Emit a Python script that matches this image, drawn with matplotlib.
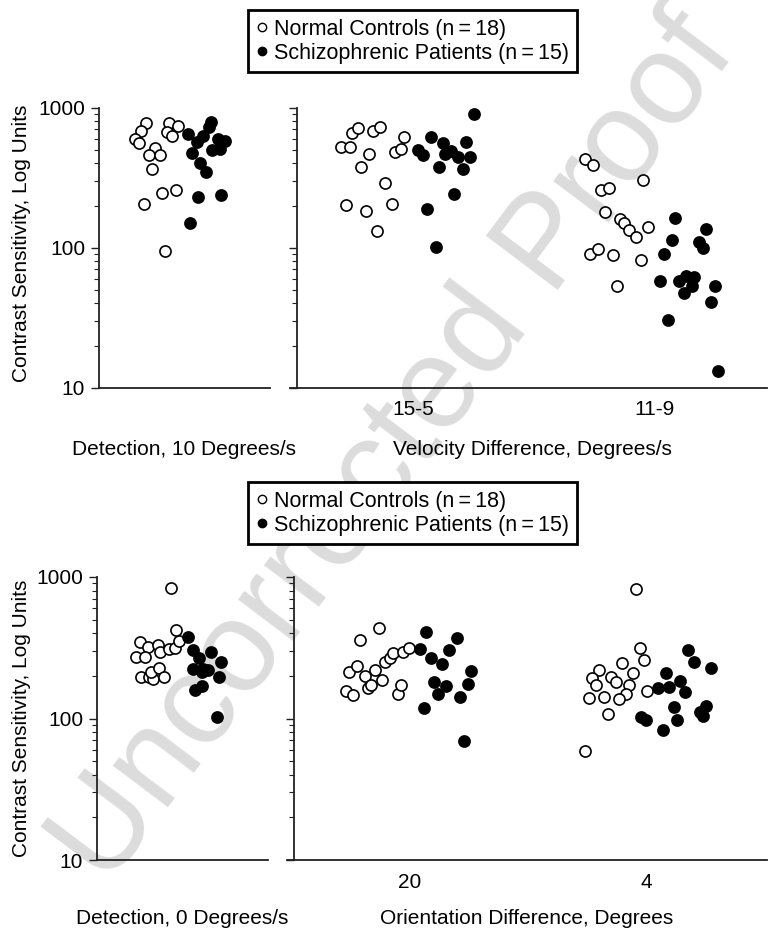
import matplotlib
matplotlib.use("Agg")
import matplotlib.pyplot as plt
from matplotlib.lines import Line2D
from matplotlib.ticker import NullFormatter

plt.rcParams['font.family'] = ['Liberation Sans', 'DejaVu Sans']
plt.rcParams['font.size'] = 15

# ---- data (contrast sensitivity, x = jittered position inside the panel) ----
# Detection, 10 deg/s
det10_ctrl_x = [46.7, 42, 36, 40, 56.3, 49.7, 61.3, 52.7, 70, 79, 67.7, 73.3, 63.3, 76.7, 44.7, 66]
det10_ctrl_y = [781, 681, 594, 556, 512, 459, 459, 363, 781, 739, 666, 628, 246, 258, 206, 94]
det10_pat_x = [88.7, 97.7, 104.3, 110, 112.3, 93.3, 113.3, 119.3, 125.7, 121, 101, 107.3, 99, 122, 91.3]
det10_pat_y = [645, 568, 631, 731, 786, 472, 499, 594, 578, 509, 400, 345, 229, 239, 150]

# Velocity difference
vel_labels = ['15-5', '11-9']
vel_ticks = [116, 358]
vel_ctrl_x = [44, 53, 55, 60.7, 75.7, 83.3, 72.3, 64.3, 87.7, 98, 103.7, 107, 48.7, 69, 95.3, 80,
              288.3, 296.3, 304, 312.3, 346, 308, 323, 327.3, 332, 339.3, 351.3, 293, 301.3, 315.7, 343.7, 320.3]
vel_ctrl_y = [524, 524, 656, 720, 681, 732, 464, 377, 291, 482, 509, 617, 201, 182, 206, 131,
              432, 392, 258, 268, 303, 180, 161, 151, 134.5, 120, 140.5, 90.6, 98.4, 89.1, 81.6, 52.9]
vel_pat_x = [176.7, 133.7, 145.7, 169, 121, 126, 147.7, 154, 161.3, 173, 142, 166, 157, 130.3, 138.7,
             378, 409.3, 374.7, 402.3, 406, 367, 363, 382.3, 389.3, 397, 395, 386.7, 417.7, 414, 371, 420.7]
vel_pat_y = [901, 621, 556, 568, 496, 459, 464, 493, 442, 447, 375, 367, 240, 188, 100.5,
             164, 136.7, 113.4, 110.4, 98.9, 90.1, 57.5, 57.5, 62.8, 62.1, 53.5, 47.2, 52.9, 40.9, 30.6, 13.1]

# Detection, 0 deg/s
det0_ctrl_x = [42.6, 50.6, 61.3, 62.6, 71.6, 77.6, 81.6, 79, 74, 39.3, 48.3, 43.6, 51.6, 55.6, 54, 61.6, 66.6]
det0_ctrl_y = [345, 320, 330, 293, 309, 314, 354, 419, 836, 272, 270, 198, 198, 190, 214, 227, 198]
det0_pat_x = [90.6, 95.6, 102.3, 114, 96, 106.3, 111.3, 105.3, 123.6, 121.6, 98, 105, 119.6]
det0_pat_y = [378, 306, 267, 293, 225, 223, 221, 212, 249, 196, 160, 170, 103]

# Orientation difference
ori_labels = ['20', '4']
ori_ticks = [116, 352]
ori_ctrl_x = [84.7, 66.3, 52, 59.3, 55.3, 62.7, 70.7, 74, 77.3, 81, 87.7, 91.3, 96, 99.3, 109.3, 114.7, 103.7, 107,
              342, 345.7, 350.3, 328, 305.3, 338.7, 298, 317, 321.7, 302, 334.7, 332, 353.3, 295.3, 309.7, 324.7, 313.7, 291.3]
ori_ctrl_y = [434, 357, 156, 146, 212, 236, 200, 163, 173, 220, 188, 249, 269, 289, 293, 313, 150, 173,
              826, 315, 260, 246, 221, 208, 193, 197, 180, 172, 173, 149, 157, 140, 141, 138, 108, 58.5]
ori_pat_x = [132.3, 126, 137, 148, 154.7, 162.7, 177, 140, 152, 143.7, 173.7, 166, 130, 170.3,
             393.7, 400.3, 416.7, 371.7, 364.3, 375, 386, 391.3, 412.3, 379.7, 409.3, 405.7, 347.3, 352, 383, 368.7]
ori_pat_y = [407, 312, 267, 241, 305, 371, 216, 182, 171, 149, 176, 142, 119, 69.6,
             303, 249, 226, 208, 163, 166, 183, 155, 122, 121, 105, 112, 103, 98, 98, 83]

legend_labels = ['Normal Controls (n\u2009=\u200918)', 'Schizophrenic Patients (n\u2009=\u200915)']
ylabel = 'Contrast Sensitivity, Log Units'

W, H = 769, 935
fig = plt.figure(figsize=(W / 100, H / 100), dpi=100)


def px_axes(x0, x1, ytop, ybot):
    return fig.add_axes([x0 / W, 1 - ybot / H, (x1 - x0) / W, (ybot - ytop) / H])


def style(ax, show_labels):
    ax.set_yscale('log')
    ax.set_ylim(10, 1000)
    ax.set_facecolor('none')
    ax.spines['top'].set_visible(False)
    ax.spines['right'].set_visible(False)
    ax.spines['left'].set_position(('data', 0))
    for s in ('left', 'bottom'):
        ax.spines[s].set_linewidth(1.3)
        ax.spines[s].set_color('#222222')
    ax.tick_params(axis='y', which='major', length=6, width=1, color='#222222', pad=4)
    ax.tick_params(axis='y', which='minor', length=3.5, width=0.8, color='#222222')
    ax.tick_params(axis='x', length=0, pad=9)
    ax.yaxis.set_minor_formatter(NullFormatter())
    if show_labels:
        ax.set_yticks([10, 100, 1000], ['10', '100', '1000'])
    else:
        ax.set_yticks([10, 100, 1000], ['', '', ''])


def dots(ax, cx, cy, px, py):
    ax.scatter(cx, cy, s=64, facecolors='white', edgecolors='black', linewidths=1.2, zorder=3, clip_on=False)
    ax.scatter(px, py, s=64, facecolors='black', edgecolors='black', linewidths=1.2, zorder=3, clip_on=False)


def legend(ytop):
    handles = [Line2D([], [], ls='none', marker='o', ms=6, mfc='white', mec='black', mew=1),
               Line2D([], [], ls='none', marker='o', ms=6, mfc='black', mec='black')]
    leg = fig.legend(handles, legend_labels, loc='upper left', bbox_to_anchor=(248 / W, 1 - ytop / H),
                     frameon=True, fancybox=False, edgecolor='black', framealpha=1,
                     handlelength=0.5, handletextpad=0.3, labelspacing=0.15, borderpad=0.4,
                     borderaxespad=0, fontsize=15.5)
    leg.get_frame().set_linewidth(2)


# watermark behind everything
fig.text(395 / W, 1 - 450 / H, 'Uncorrected Proof', fontsize=93, color='#dcdcdc',
         rotation=53, ha='center', va='center', rotation_mode='anchor', zorder=-10)

# top row
ax1 = px_axes(99, 270, 107.7, 387.7)
ax1.set_xlim(0, 171)
style(ax1, True)
ax1.set_xticks([])
dots(ax1, det10_ctrl_x, det10_ctrl_y, det10_pat_x, det10_pat_y)

ax2 = px_axes(290, 767, 107.7, 387.7)
ax2.set_xlim(-7, 470)
style(ax2, False)
ax2.set_xticks(vel_ticks, vel_labels)
dots(ax2, vel_ctrl_x, vel_ctrl_y, vel_pat_x, vel_pat_y)

# bottom row
ax3 = px_axes(97, 268, 577, 860)
ax3.set_xlim(0, 171)
style(ax3, True)
ax3.set_xticks([])
dots(ax3, det0_ctrl_x, det0_ctrl_y, det0_pat_x, det0_pat_y)

ax4 = px_axes(287, 767, 577, 860)
ax4.set_xlim(-7, 473)
style(ax4, False)
ax4.set_xticks(ori_ticks, ori_labels)
dots(ax4, ori_ctrl_x, ori_ctrl_y, ori_pat_x, ori_pat_y)

# axis titles
fig.text(22 / W, 1 - 243 / H, ylabel, rotation=90, ha='center', va='center')
fig.text(22 / W, 1 - 718 / H, ylabel, rotation=90, ha='center', va='center')
fig.text(184 / W, 1 - 450 / H, 'Detection, 10 Degrees/s', ha='center', va='center')
fig.text(532 / W, 1 - 450 / H, 'Velocity Difference, Degrees/s', ha='center', va='center')
fig.text(182 / W, 1 - 919 / H, 'Detection, 0 Degrees/s', ha='center', va='center')
fig.text(527 / W, 1 - 919 / H, 'Orientation Difference, Degrees', ha='center', va='center')

legend(10)
legend(482)

fig.savefig('out.png', dpi=100)
